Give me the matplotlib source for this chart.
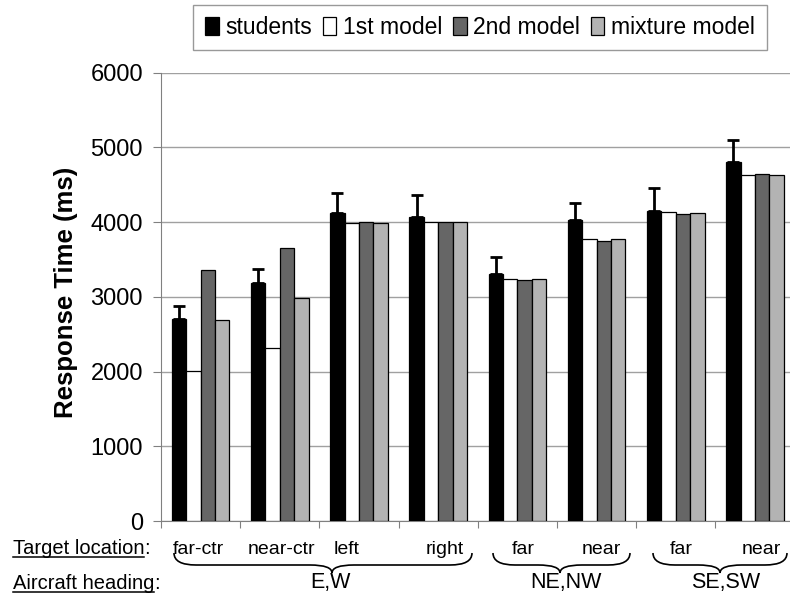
import numpy as np
import matplotlib
matplotlib.use('Agg')
import matplotlib.pyplot as plt
from matplotlib.path import Path
from matplotlib.patches import PathPatch, Patch
from matplotlib.lines import Line2D

plt.rcParams['font.family'] = ['Liberation Sans', 'DejaVu Sans']

locations = ['far-ctr', 'near-ctr', 'left', 'right', 'far', 'near', 'far', 'near']
headings = ['E,W', 'NE,NW', 'SE,SW']
series = ['students', '1st model', '2nd model', 'mixture model']

students = [2710, 3190, 4120, 4075, 3300, 4030, 4155, 4810]
students_err = [165, 180, 270, 290, 230, 230, 300, 290]
model1 = [2010, 2320, 3985, 4005, 3240, 3770, 4135, 4630]
model2 = [3355, 3660, 4000, 3998, 3225, 3750, 4115, 4645]
mixture = [2690, 2985, 3995, 3998, 3235, 3768, 4128, 4630]

colors = ['#000000', '#ffffff', '#666666', '#b3b3b3']

W, H = 790, 601
fig = plt.figure(figsize=(W / 100, H / 100), dpi=100)


def fx(px):
    return px / W


def fy(py):
    return 1 - py / H


ax = fig.add_axes([fx(161), fy(521), fx(790) - fx(161), fy(72.7) - fy(521)])

x = np.arange(len(locations))
bw = 0.182
vals = [students, model1, model2, mixture]
for i, (v, c, name) in enumerate(zip(vals, colors, series)):
    ax.bar(x + (i - 1.5) * bw, v, bw, color=c, edgecolor='black', linewidth=0.9,
           label=name, zorder=3)

ax.errorbar(x - 1.5 * bw, students, yerr=[np.zeros(len(students)), students_err],
            fmt='none', ecolor='black', elinewidth=2, capsize=4, capthick=2, zorder=4)

ax.set_ylim(0, 6000)
ax.set_xlim(-0.5, -0.5 + 629 / 79.2)
ax.set_yticks(np.arange(0, 6001, 1000))
ax.set_xticks(np.arange(len(locations)) - 0.5)
ax.set_xticklabels([])
ax.yaxis.grid(True, color='#a0a0a0', linewidth=1)
ax.set_axisbelow(True)
for s in ['top', 'right']:
    ax.spines[s].set_visible(False)
for s in ['left', 'bottom']:
    ax.spines[s].set_color('#808080')
ax.tick_params(axis='y', direction='out', length=6, color='#808080', pad=7, labelsize=17)
ax.tick_params(axis='x', direction='out', length=5, color='#808080')

fig.text(fx(66), fy(292), 'Response Time (ms)', rotation=90, ha='center', va='center',
         fontsize=18.5, fontweight='bold')

# legend
handles = [Patch(facecolor=c, edgecolor='black', linewidth=0.9) for c in colors]
leg = fig.legend(handles, series, loc='center', bbox_to_anchor=(fx(480), fy(27.5)),
                 ncol=4, fontsize=16.5, frameon=True, fancybox=False,
                 handlelength=0.6, handleheight=0.8, handletextpad=0.3,
                 columnspacing=0.45, borderpad=0.5, borderaxespad=0)
leg.get_frame().set_edgecolor('#808080')
leg.get_frame().set_linewidth(1)

# bottom labels
loc_px = [198.5, 281.7, 346.7, 445, 523.5, 601.7, 681.5, 761.7]
for lab, px in zip(locations, loc_px):
    fig.text(fx(px), fy(554), lab, ha='center', va='baseline', fontsize=14)

head_px = [330, 566, 726]
for lab, px in zip(headings, head_px):
    fig.text(fx(px), fy(588), lab, ha='center', va='baseline', fontsize=15.5)

renderer = fig.canvas.get_renderer()


def underlined(px, py, txt, size):
    t = fig.text(fx(px), fy(py), txt, ha='left', va='baseline', fontsize=size)
    bb = t.get_window_extent(renderer)
    x1 = bb.x1 / fig.dpi / fig.get_figwidth()
    fig.add_artist(Line2D([fx(px), x1], [fy(py + 2.5), fy(py + 2.5)],
                          color='black', linewidth=1.1, transform=fig.transFigure))
    fig.text(x1, fy(py), ':', ha='left', va='baseline', fontsize=size)


underlined(12.7, 554, 'Target location', 14.5)
underlined(12.7, 589, 'Aircraft heading', 14.5)

# braces
brace_spans = [(174, 472, 332), (493, 630, 560), (653, 787, 720)]
ytop, ymid, ytip, r = 553, 565, 573, 22
for x0, x1, xt in brace_spans:
    verts = [(x0, ytop), (x0, ymid), (x0 + r, ymid),
             (xt - r, ymid),
             (xt, ymid), (xt, ytip),
             (xt, ymid), (xt + r, ymid),
             (x1 - r, ymid),
             (x1, ymid), (x1, ytop)]
    codes = [Path.MOVETO, Path.CURVE3, Path.CURVE3,
             Path.LINETO,
             Path.CURVE3, Path.CURVE3,
             Path.CURVE3, Path.CURVE3,
             Path.LINETO,
             Path.CURVE3, Path.CURVE3]
    verts = [(fx(a), fy(b)) for a, b in verts]
    fig.add_artist(PathPatch(Path(verts, codes), facecolor='none', edgecolor='black',
                             linewidth=1.2, transform=fig.transFigure))

fig.savefig('out.png', dpi=100)
